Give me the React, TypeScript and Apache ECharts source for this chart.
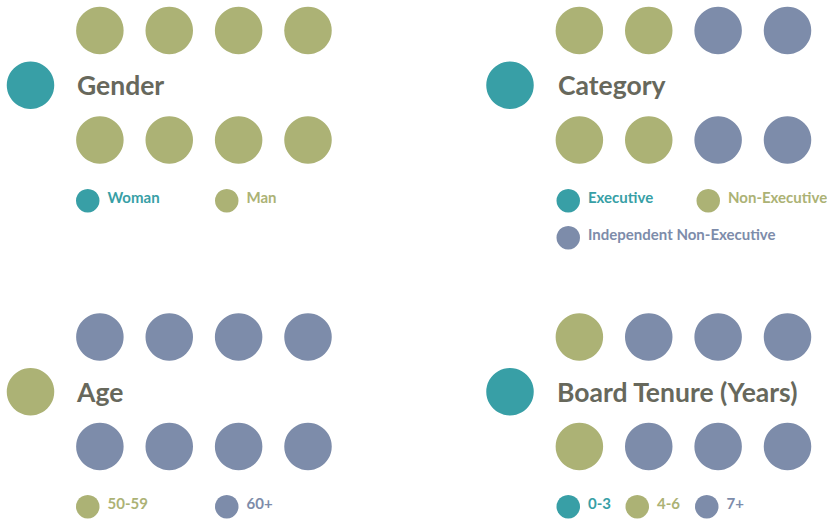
import React, { useEffect, useRef } from "react";
import * as echarts from "echarts";

// ---- data ----
const panelTitles = ["Gender", "Category", "Age", "Board Tenure (Years)"];

const genderLabels = ["Woman", "Man"];
const genderCounts = [1, 8];

const categoryLabels = ["Executive", "Non-Executive", "Independent Non-Executive"];
const categoryCounts = [1, 4, 4];

const ageLabels = ["50-59", "60+"];
const ageCounts = [1, 8];

const tenureLabels = ["0-3", "4-6", "7+"];
const tenureCounts = [1, 2, 6];

// ---- styles ----
const TEAL = "#389fa6";
const OLIVE = "#acb275";
const BLUE = "#7d8caa";
const TITLE = "#67685c";
const FONT = "Lato, 'Open Sans', sans-serif";

const panels = [
  { title: panelTitles[0], labels: genderLabels, counts: genderCounts, colors: [TEAL, OLIVE],
    grid: { left: 30.5, top: 30.5 }, titlePos: [77, 85],
    legendPos: [[76, 189], [215, 189]] },
  { title: panelTitles[1], labels: categoryLabels, counts: categoryCounts, colors: [TEAL, OLIVE, BLUE],
    grid: { left: 510, top: 30.5 }, titlePos: [558, 85],
    legendPos: [[556.5, 189], [696.5, 189], [556.5, 226]] },
  { title: panelTitles[2], labels: ageLabels, counts: ageCounts, colors: [OLIVE, BLUE],
    grid: { left: 30.5, top: 337 }, titlePos: [77, 392],
    legendPos: [[76, 495], [215, 495]] },
  { title: panelTitles[3], labels: tenureLabels, counts: tenureCounts, colors: [TEAL, OLIVE, BLUE],
    grid: { left: 510, top: 337 }, titlePos: [557, 392],
    legendPos: [[556.5, 495], [625.5, 495], [695, 495]] },
];

// dot slot -> [column, row]; slot 0 is the lone dot on the left, then column by column, top first
function slot(i: number): [number, number] {
  if (i === 0) return [0, 1];
  const col = Math.floor((i - 1) / 2) + 1;
  const row = (i - 1) % 2 === 0 ? 2 : 0;
  return [col, row];
}

export default function App() {
  const ref = useRef<HTMLDivElement>(null);
  useEffect(() => {
    if (!ref.current) return;
    document.body.style.margin = "0";
    const chart = echarts.init(ref.current, undefined, { renderer: "svg" });
    const grids: any[] = [];
    const xAxes: any[] = [];
    const yAxes: any[] = [];
    const series: any[] = [];
    const legends: any[] = [];
    const graphics: any[] = [];
    const DOT = 47.5;
    const LEG = 23.5;
    panels.forEach((p, pi) => {
      grids.push({ left: p.grid.left, top: p.grid.top, width: 277.5, height: 109.5 });
      xAxes.push({ type: "value", gridIndex: pi, min: 0, max: 4, show: false });
      yAxes.push({ type: "value", gridIndex: pi, min: 0, max: 2, show: false });
      let idx = 0;
      p.labels.forEach((lab, li) => {
        const pts: number[][] = [];
        for (let k = 0; k < p.counts[li]; k++) {
          pts.push(slot(idx));
          idx++;
        }
        series.push({
          type: "scatter",
          name: lab,
          xAxisIndex: pi,
          yAxisIndex: pi,
          symbol: "circle",
          symbolSize: DOT,
          itemStyle: { color: p.colors[li], opacity: 1 },
          emphasis: { disabled: true },
          data: pts,
        });
        legends.push({
          data: [{ name: lab, icon: "circle" }],
          left: p.legendPos[li][0],
          top: p.legendPos[li][1],
          padding: 0,
          itemWidth: LEG,
          itemHeight: LEG,
          selectedMode: false,
          formatter: "{t|{name}}",
          textStyle: {
            color: p.colors[li],
            fontFamily: FONT,
            fontWeight: "bold",
            fontSize: 15,
            rich: {
              t: {
                color: p.colors[li],
                fontFamily: FONT,
                fontWeight: "bold",
                fontSize: 15,
                padding: [0, 0, 8, 3],
              },
            },
          },
        });
      });
      graphics.push({
        type: "text",
        x: p.titlePos[0],
        y: p.titlePos[1],
        style: {
          text: p.title,
          fill: TITLE,
          font: `bold 26.5px ${FONT}`,
          textVerticalAlign: "middle",
          textAlign: "left",
        },
      });
    });
    chart.setOption({
      animation: false,
      backgroundColor: "#ffffff",
      grid: grids,
      xAxis: xAxes,
      yAxis: yAxes,
      series,
      legend: legends,
      graphic: graphics,
      tooltip: { show: false },
    });
    return () => chart.dispose();
  }, []);
  return (
    <div
      ref={ref}
      style={{ position: "relative", width: 827, height: 522, background: "#fff" }}
    />
  );
}
